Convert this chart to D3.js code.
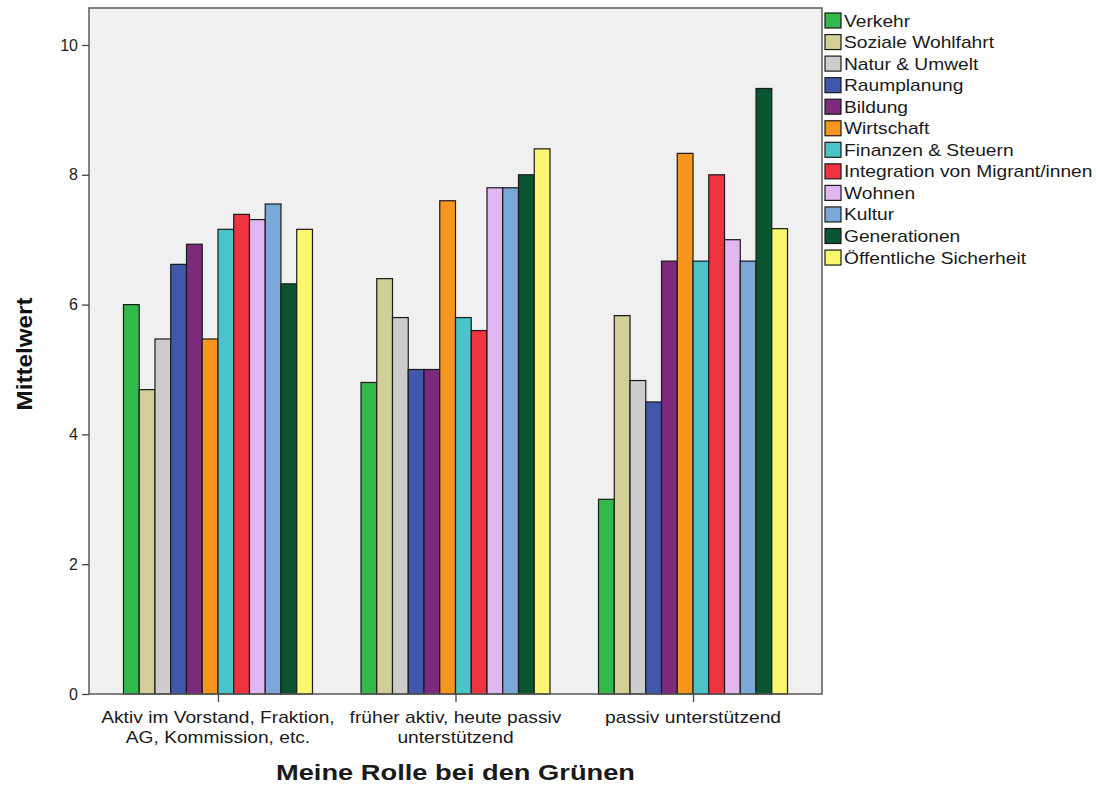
<!DOCTYPE html>
<html><head><meta charset="utf-8">
<script src="https://cdn.jsdelivr.net/npm/d3@7"></script>
<style>body{margin:0;background:#fff}svg{display:block;font-family:"Liberation Sans",Arial,sans-serif}</style>
</head><body><svg id="c" width="1099" height="787"></svg>
<script>
const groups = ["Aktiv im Vorstand, Fraktion, AG, Kommission, etc.", "früher aktiv, heute passiv unterstützend", "passiv unterstützend"];
const groupLines = [["Aktiv im Vorstand, Fraktion,", "AG, Kommission, etc."], ["früher aktiv, heute passiv", "unterstützend"], ["passiv unterstützend"]];
const seriesNames = ["Verkehr","Soziale Wohlfahrt","Natur & Umwelt","Raumplanung","Bildung","Wirtschaft","Finanzen & Steuern","Integration von Migrant/innen","Wohnen","Kultur","Generationen","Öffentliche Sicherheit"];
const colors = ["#31b94a","#d3ce97","#cccccc","#3f58ab","#7c2a7c","#f7961e","#4ac3c9","#ef3340","#dfb6ef","#7aa8d6","#0a5530","#faf66e"];
const valuesAktiv = [6.00,4.69,5.47,6.62,6.93,5.47,7.16,7.39,7.31,7.55,6.32,7.16];
const valuesFrueher = [4.80,6.40,5.80,5.00,5.00,7.60,5.80,5.60,7.80,7.80,8.00,8.40];
const valuesPassiv = [3.00,5.83,4.83,4.50,6.67,8.33,6.67,8.00,7.00,6.67,9.33,7.17];
const yTicks = [0,2,4,6,8,10];
const values = [valuesAktiv, valuesFrueher, valuesPassiv];

const svg = d3.select("#c");
const L = 89, R = 822, T = 8, B = 694;
const x0 = d3.scalePoint().domain(groups).range([L, R]).padding(0.543);
const x1 = d3.scaleBand().domain(seriesNames).range([-94.5, 94.5]).padding(0);
const y = d3.scaleLinear().domain([0, 10.57]).range([B, T]);

svg.append("rect").attr("x", L).attr("y", T).attr("width", R - L).attr("height", B - T).attr("fill", "#f0f0f0");

groups.forEach((g, gi) => {
  svg.append("g").selectAll("rect").data(values[gi]).join("rect")
    .attr("x", (d, i) => x0(g) + x1(seriesNames[i]))
    .attr("y", d => y(d))
    .attr("width", x1.bandwidth())
    .attr("height", d => B - y(d))
    .attr("fill", (d, i) => colors[i])
    .attr("stroke", "#1a1a1a").attr("stroke-width", 1.2);
});

svg.append("rect").attr("x", L).attr("y", T).attr("width", R - L).attr("height", B - T)
  .attr("fill", "none").attr("stroke", "#5a5a5a").attr("stroke-width", 1.5);

const yAxis = svg.append("g").attr("transform", `translate(${L},0)`)
  .call(d3.axisLeft(y).tickValues(yTicks).tickSize(7).tickPadding(4).tickFormat(d3.format("d")));
yAxis.select(".domain").remove();
yAxis.selectAll("line").attr("stroke", "#444").attr("stroke-width", 1.3);
yAxis.selectAll("text").attr("font-size", 16).attr("fill", "#222").attr("font-family", "Liberation Sans, Arial, sans-serif");

const xAxis = svg.append("g").attr("transform", `translate(0,${B})`)
  .call(d3.axisBottom(x0).tickSize(8).tickFormat(""));
xAxis.select(".domain").remove();
xAxis.selectAll("line").attr("stroke", "#444").attr("stroke-width", 1.3);

function stretched(parent, x, yy, sx, txt, size, weight, anchor) {
  return parent.append("text")
    .attr("transform", `translate(${x},${yy}) scale(${sx},1)`)
    .attr("text-anchor", anchor).attr("font-size", size).attr("font-weight", weight)
    .attr("fill", "#1a1a1a").text(txt);
}

groups.forEach((g, gi) => {
  groupLines[gi].forEach((ln, li) => {
    stretched(svg, x0(g), 723 + li * 19.5, 1.2, ln, 16, "normal", "middle");
  });
});

stretched(svg, x0(groups[1]), 780, 1.24, "Meine Rolle bei den Grünen", 22, "bold", "middle");
svg.append("text").attr("transform", "translate(32,354) rotate(-90) scale(1.1,1)").attr("text-anchor", "middle")
  .attr("font-size", 22).attr("font-weight", "bold").attr("fill", "#111").text("Mittelwert");

const leg = svg.append("g").selectAll("g").data(seriesNames).join("g")
  .attr("transform", (d, i) => `translate(825,${13 + i * 21.55})`);
leg.append("rect").attr("width", 16).attr("height", 15).attr("fill", (d, i) => colors[i])
  .attr("stroke", "#1a1a1a").attr("stroke-width", 1.2);
leg.append("text").attr("transform", "translate(19,13.5) scale(1.2,1)").attr("font-size", 16)
  .attr("fill", "#1a1a1a").text(d => d);
</script></body></html>
